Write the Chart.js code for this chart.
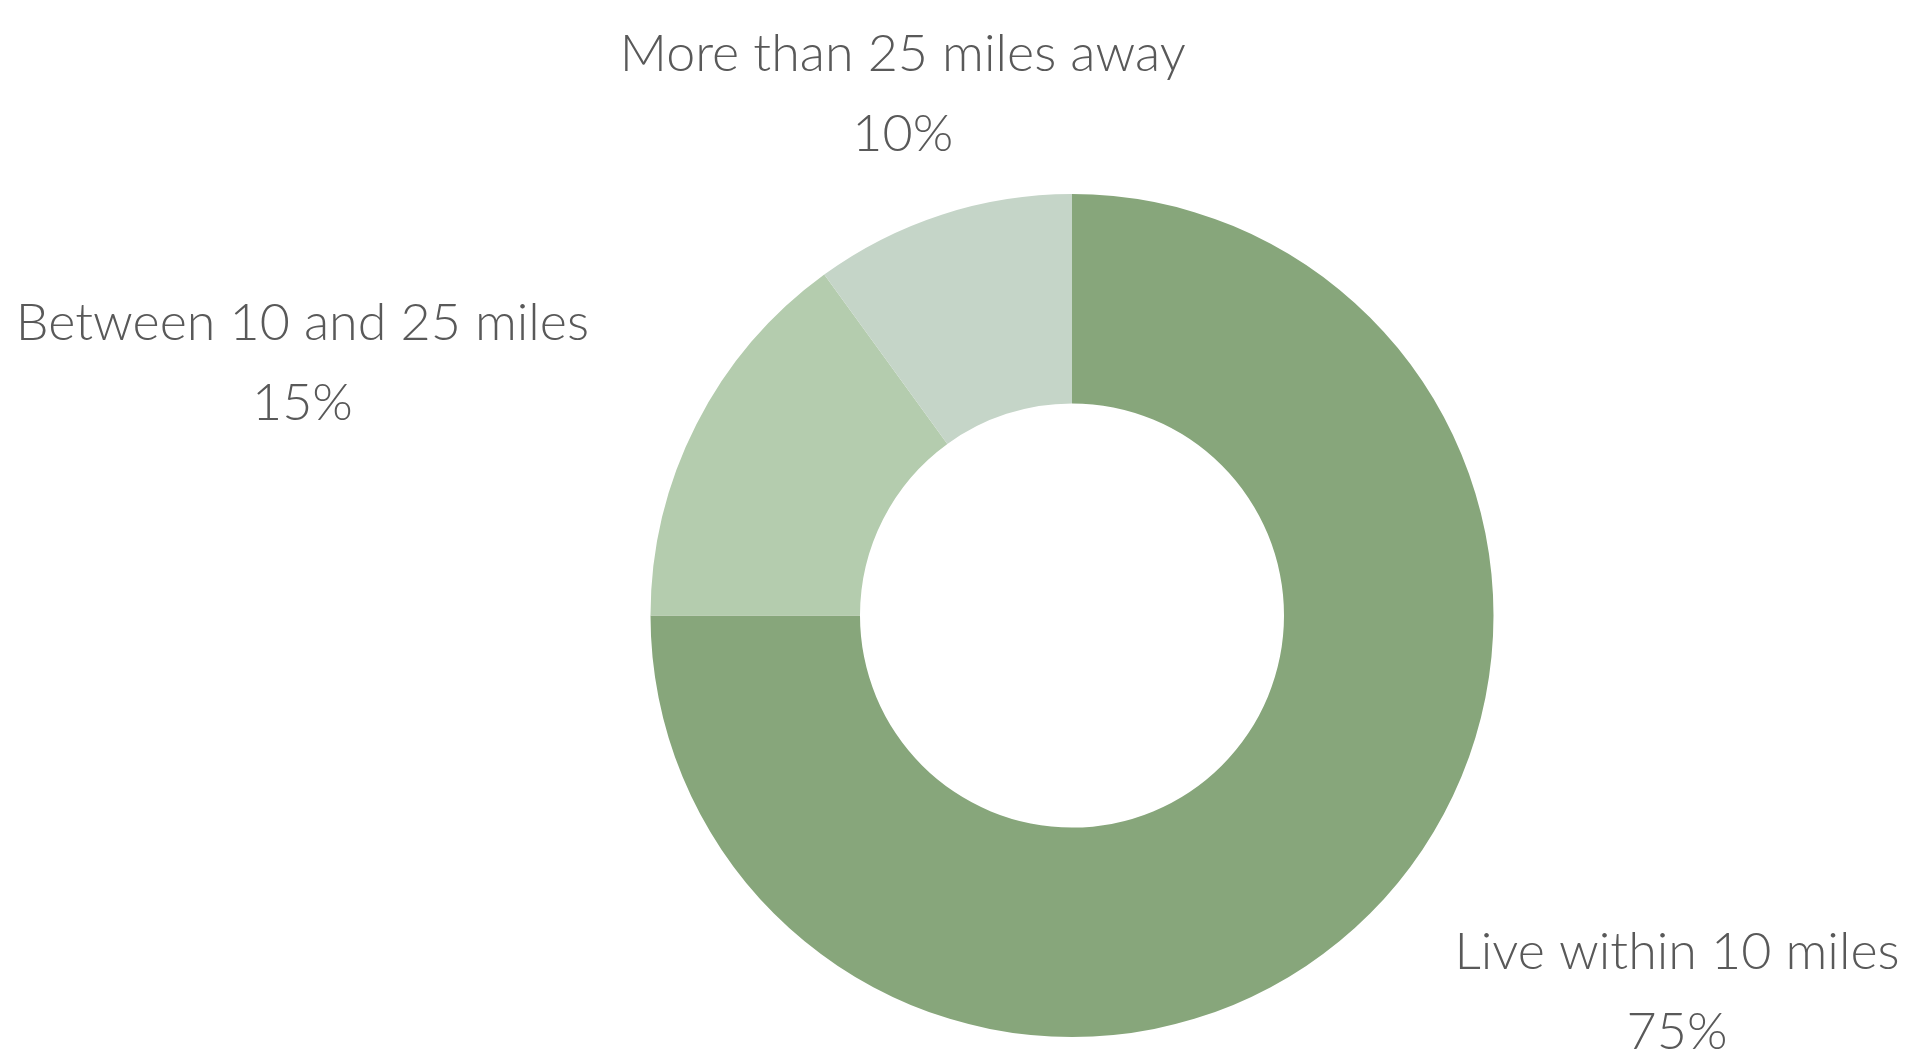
<!DOCTYPE html>
<html>
<head>
<meta charset="utf-8">
<script src="https://cdn.jsdelivr.net/npm/chart.js@4.4.0/dist/chart.umd.min.js"></script>
<style>
  html, body { margin: 0; padding: 0; background: #fff; }
  #wrap { width: 1905px; height: 1049px; }
</style>
</head>
<body>
<div id="wrap"><canvas id="distanceChart" width="1905" height="1049"></canvas></div>
<script>
const categories = ['Live within 10 miles', 'Between 10 and 25 miles', 'More than 25 miles away'];
const shares = [75, 15, 10];
const sliceColors = ['#87A67B', '#B4CCAE', '#C5D5C8'];

// label nudge from the slice's outer edge midpoint (px)
const labelNudge = [[307, 95], [-394, -44], [-39, -104]];

const outsideLabels = {
  id: 'outsideLabels',
  afterDraw(chart) {
    const ctx = chart.ctx;
    const arcs = chart.getDatasetMeta(0).data;
    ctx.save();
    ctx.fillStyle = '#595959';
    ctx.font = '300 52px Lato';
    ctx.textAlign = 'center';
    ctx.textBaseline = 'alphabetic';
    arcs.forEach((arc, i) => {
      const p = arc.getProps(['x', 'y', 'startAngle', 'endAngle', 'outerRadius'], true);
      const mid = (p.startAngle + p.endAngle) / 2;
      const ax = p.x + Math.cos(mid) * p.outerRadius + labelNudge[i][0];
      const ay = p.y + Math.sin(mid) * p.outerRadius + labelNudge[i][1];
      ctx.fillText(categories[i], ax, ay - 40);
      ctx.fillText(shares[i] + '%', ax, ay + 40);
    });
    ctx.restore();
  }
};

new Chart(document.getElementById('distanceChart').getContext('2d'), {
  type: 'doughnut',
  data: {
    labels: categories,
    datasets: [{
      data: shares,
      backgroundColor: sliceColors,
      borderWidth: 0
    }]
  },
  options: {
    responsive: false,
    animation: false,
    cutout: '50.3%',
    layout: { padding: { top: 194, bottom: 12, left: 400, right: 161 } },
    plugins: {
      legend: { display: false },
      tooltip: { enabled: false }
    }
  },
  plugins: [outsideLabels]
});
</script>
</body>
</html>
